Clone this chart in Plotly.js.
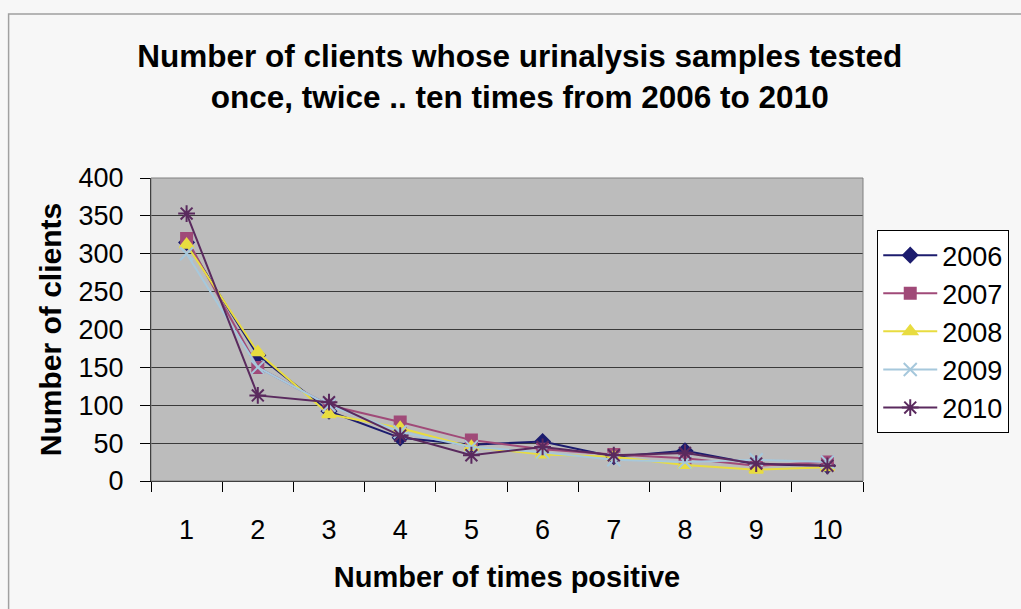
<!DOCTYPE html>
<html>
<head>
<meta charset="utf-8">
<script src="https://cdn.plot.ly/plotly-3.0.1.min.js"></script>
<style>html,body{margin:0;padding:0;background:#f7f7f7;}#chart{width:1021px;height:609px;}</style>
</head>
<body>
<div id="chart"></div>
<script>
const categories = ["1","2","3","4","5","6","7","8","9","10"];
const years = ["2006","2007","2008","2009","2010"];
const v2006 = [315,166,92,57,48,52,32,40,22,20];
const v2007 = [320,150,100,78,54,42,35,30,20,25];
const v2008 = [312,170,88,70,45,35,32,21,15,18];
const v2009 = [300,150,100,65,45,38,28,25,28,25];
const v2010 = [353,113,104,60,34,45,34,37,23,20];
const seriesValues = [v2006,v2007,v2008,v2009,v2010];
const colors = ["#1c1c6e","#a04a78","#e8dc40","#a6c8dc","#5a2a5e"];
const symbols = ["diamond","square","triangle-up","x-thin-open","asterisk-open"];
const sizes = [11,11,12,13,14];

const traces = years.map((y,i)=>({
  x: categories, y: seriesValues[i], name: y, type:"scatter", mode:"lines+markers",
  line:{color:colors[i], width:2},
  marker:{symbol:symbols[i], size:sizes[i], color:colors[i], line:{color:colors[i], width:2}}
}));

const layout = {
  width:1021, height:609,
  paper_bgcolor:"#f7f7f7", plot_bgcolor:"#bcbcbc",
  margin:{l:151, r:155, t:178, b:128},
  font:{family:"Liberation Sans, Arial, sans-serif", color:"#000"},
  title:{text:"<b>Number of clients whose urinalysis samples tested<br>once, twice .. ten times from 2006 to 2010</b>",
    font:{size:31.5, color:"#000"}, x:0.509, xanchor:"center", y:0.89, yanchor:"middle"},
  xaxis:{type:"category", range:[-0.5, categories.length-0.5], tickson:"boundaries", ticks:"outside", ticklen:10, tickcolor:"#000",
    showline:true, linecolor:"#000", linewidth:1, showgrid:false, tickfont:{size:27},
    ticklabelstandoff:25,
    title:{text:"<b>Number of times positive</b>", font:{size:29}, standoff:22}},
  yaxis:{range:[0,400], dtick:50, ticks:"outside", ticklen:10, tickcolor:"#000",
    showline:true, linecolor:"#000", linewidth:1, gridcolor:"#3a3a3a", gridwidth:1,
    tickfont:{size:27}, zeroline:false, ticklabelstandoff:11,
    title:{text:"<b>Number of clients</b>", font:{size:30}, standoff:8}},
  legend:{x:1.02, xanchor:"left", y:0.828, yanchor:"top", bgcolor:"#ffffff",
    bordercolor:"#000", borderwidth:1, font:{size:27}, tracegroupgap:0, itemwidth:54},
  shapes:[
    {type:"rect", xref:"paper", yref:"paper", x0:0, x1:1, y0:0, y1:1, line:{color:"#808080", width:1}},
    {type:"rect", xref:"paper", yref:"paper", x0:-0.2, x1:1.229, y0:-0.459, y1:1.541, line:{color:"#a0a0a0", width:1.5}}
  ],
  showlegend:true
};
Plotly.newPlot("chart", traces, layout, {displayModeBar:false, staticPlot:true});
</script>
</body>
</html>
